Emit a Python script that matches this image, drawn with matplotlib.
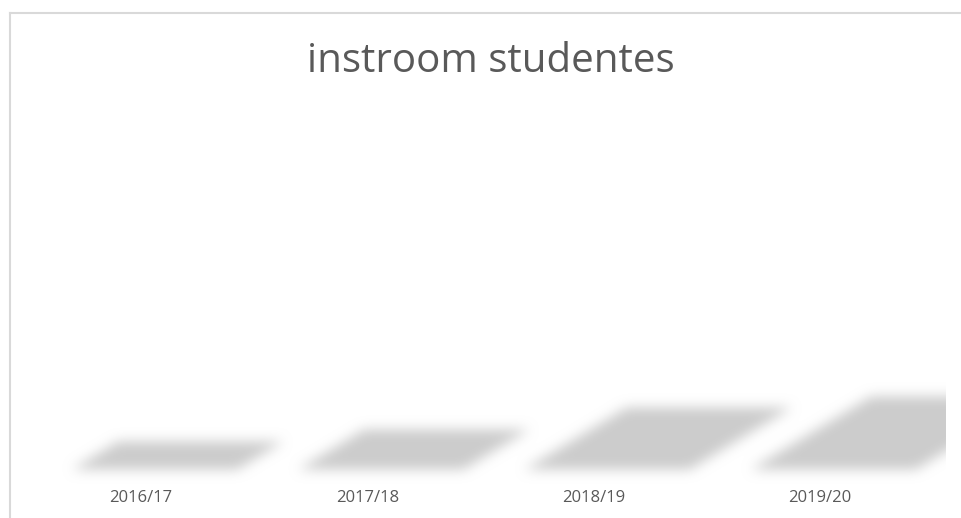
import numpy as np
import matplotlib
matplotlib.use("Agg")
import matplotlib.pyplot as plt
from matplotlib.transforms import Affine2D
from matplotlib.lines import Line2D

# chart data (bar heights read from the shadow heights)
years = ["2016/17", "2017/18", "2018/19", "2019/20"]
instroom = [28, 40, 62, 73]

W, H, DPI = 961, 518, 100
text_grey = "#595959"
plt.rcParams['font.family'] = ['Open Sans', 'DejaVu Sans']

# plot area in pixels (left, baseline, right, top)
px_left, px_base, px_right, px_top = 28, 468, 933, 110
ax_rect = [px_left / W, 1 - px_base / H, (px_right - px_left) / W, (px_base - px_top) / H]
y_max = px_base - px_top
bar_w = 0.73
skew = 1.65     # horizontal shift of the shadow per pixel of height
shift_x = 12    # shadow offset to the right (px)


def setup_axes(fig):
    ax = fig.add_axes(ax_rect)
    ax.set_xlim(-0.5, len(years) - 0.5)
    ax.set_ylim(0, y_max)
    ax.axis("off")
    return ax


def box_blur(img, size, passes=3):
    # separable box blur, repeated -> approx gaussian
    k = np.ones(size) / size
    out = img.copy()
    for _ in range(passes):
        out = np.apply_along_axis(lambda r: np.convolve(r, k, mode="same"), 0, out)
        out = np.apply_along_axis(lambda r: np.convolve(r, k, mode="same"), 1, out)
    return out


# render the skewed shadows off-screen, then blur them
sfig = plt.figure(figsize=(W / DPI, H / DPI), dpi=DPI)
sax = setup_axes(sfig)
sfig.canvas.draw()
y0 = sax.transData.transform((0, 0))[1]
shear = Affine2D().translate(0, -y0).skew(np.arctan(skew), 0).translate(shift_x, y0)
shadow_bars = sax.bar(range(len(years)), instroom, width=bar_w, color="black")
for p in shadow_bars:
    p.set_transform(sax.transData + shear)
    p.set_clip_on(False)
sfig.canvas.draw()
mask = np.asarray(sfig.canvas.buffer_rgba())[:, :, 0].astype(float)
mask = 1 - mask / 255.0
plt.close(sfig)
mask = box_blur(mask, 12)
mask[:, 946:] = 0          # shadow is cut at the chart edge

shadow = np.zeros((H, W, 4))
shadow[:, :, :3] = 0.8
shadow[:, :, 3] = np.clip(mask, 0, 1)

# main figure
fig = plt.figure(figsize=(W / DPI, H / DPI), dpi=DPI)
fig.figimage(shadow, 0, 0, origin="upper", zorder=0)
ax = setup_axes(fig)
ax.patch.set_visible(False)
ax.bar(range(len(years)), instroom, width=bar_w, color="white", alpha=0)

for i, yr in enumerate(years):
    ax.text(i, -30, yr, ha="center", va="center", fontsize=12, color=text_grey)

fig.text(491 / W, 1 - 72 / H, "instroom studentes", ha="center", va="baseline",
         fontsize=29, color=text_grey)

# chart border (only left and top edges visible)
frame = "#d9d9d9"
fig.add_artist(Line2D([10 / W, 10 / W], [0, 1 - 13 / H], color=frame, lw=1.5,
                      transform=fig.transFigure))
fig.add_artist(Line2D([10 / W, 1], [1 - 13 / H, 1 - 13 / H], color=frame, lw=1.5,
                      transform=fig.transFigure))

fig.savefig("out.png", dpi=DPI)
